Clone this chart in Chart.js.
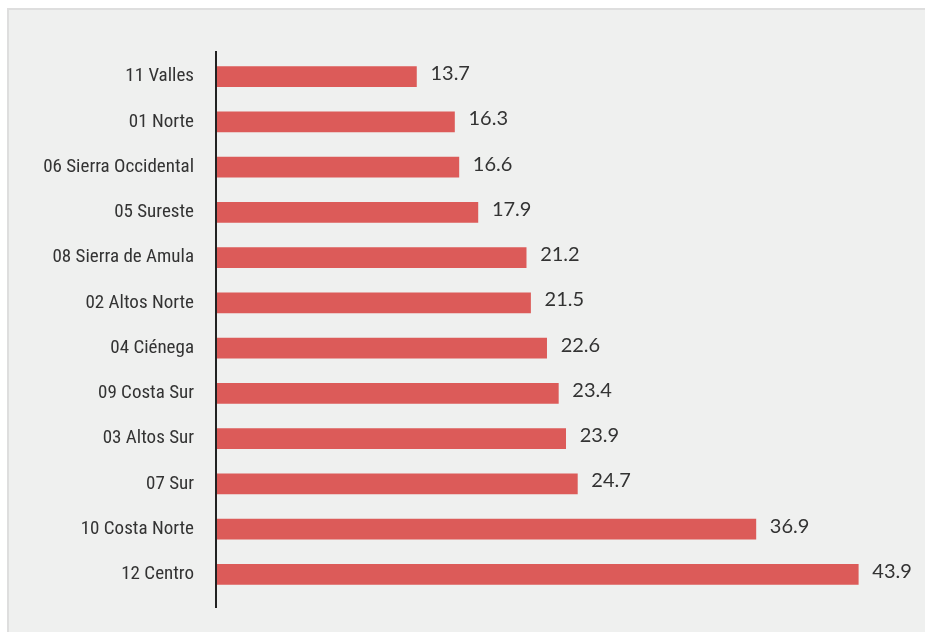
<!DOCTYPE html>
<html>
<head>
<meta charset="utf-8">
<script src="https://cdn.jsdelivr.net/npm/chart.js@4/dist/chart.umd.min.js"></script>
<style>
  html, body { margin: 0; padding: 0; background: #fff; }
  #panel { position: absolute; left: 7px; top: 8px; width: 918px; height: 624px;
           box-sizing: border-box; border: 2px solid #dedede; border-right: none; border-bottom: none;
           background: #eff0ef; }
  #box { position: absolute; left: 0; top: 0; width: 925px; height: 632px; }
</style>
</head>
<body>
<div id="panel"></div>
<div id="box"><canvas id="barChart"></canvas></div>
<script>
const regions = ['11 Valles','01 Norte','06 Sierra Occidental','05 Sureste','08 Sierra de Amula',
  '02 Altos Norte','04 Ciénega','09 Costa Sur','03 Altos Sur','07 Sur','10 Costa Norte','12 Centro'];
const values = [13.7, 16.3, 16.6, 17.9, 21.2, 21.5, 22.6, 23.4, 23.9, 24.7, 36.9, 43.9];

// value text after each bar
const valueLabels = {
  id: 'valueLabels',
  afterDatasetsDraw(chart) {
    const ctx = chart.ctx;
    ctx.save();
    ctx.font = '20px Lato, "Noto Sans", sans-serif';
    ctx.fillStyle = '#333333';
    ctx.textAlign = 'left';
    ctx.textBaseline = 'middle';
    chart.getDatasetMeta(0).data.forEach((bar, i) => {
      ctx.fillText(values[i].toFixed(1), bar.x + 14, bar.y - 3);
    });
    ctx.restore();
  }
};

// vertical axis line, a bit longer than the plot area
const axisLine = {
  id: 'axisLine',
  afterDraw(chart) {
    const ctx = chart.ctx;
    const x = chart.scales.x.getPixelForValue(0);
    ctx.save();
    ctx.strokeStyle = '#222222';
    ctx.lineWidth = 2;
    ctx.beginPath();
    ctx.moveTo(x, chart.chartArea.top - 3);
    ctx.lineTo(x, chart.chartArea.bottom + 11);
    ctx.stroke();
    ctx.restore();
  }
};

new Chart(document.getElementById('barChart'), {
  type: 'bar',
  data: {
    labels: regions,
    datasets: [{
      data: values,
      backgroundColor: '#dc5b59',
      barThickness: 20
    }]
  },
  options: {
    indexAxis: 'y',
    responsive: true,
    maintainAspectRatio: false,
    animation: false,
    layout: { padding: { left: 0, right: 36, top: 54, bottom: 35 } },
    plugins: {
      legend: { display: false },
      tooltip: { enabled: false }
    },
    scales: {
      x: {
        display: false,
        min: 0,
        max: 46
      },
      y: {
        afterFit(scale) { scale.width = 216; },
        grid: { display: false, drawTicks: false },
        border: { display: false },
        ticks: {
          padding: 22,
          color: '#333333',
          font: { size: 19, family: '"Liberation Sans Narrow", "Roboto Condensed", "DejaVu Sans Condensed", sans-serif' }
        }
      }
    }
  },
  plugins: [valueLabels, axisLine]
});
</script>
</body>
</html>
